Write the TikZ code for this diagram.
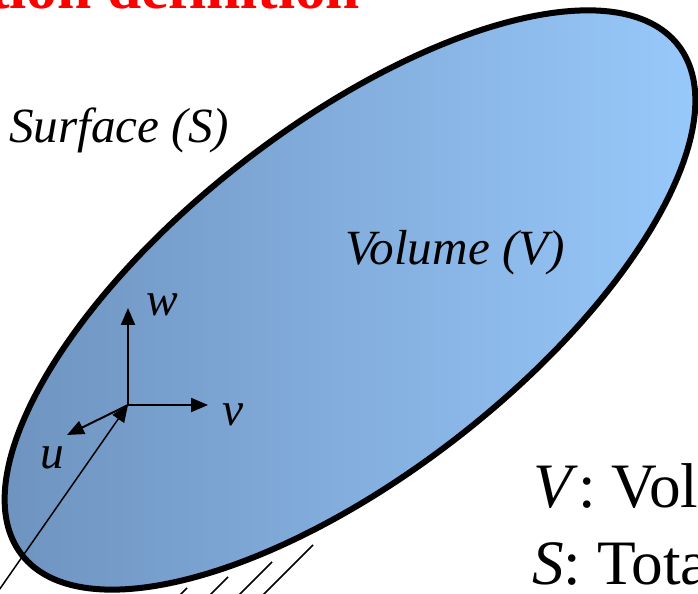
\documentclass[tikz,border=0pt]{standalone}
\usepackage{fontspec}
\setmainfont{Liberation Serif}
\usetikzlibrary{arrows.meta,shapes.geometric}
\definecolor{volc}{HTML}{6C90BC}
\definecolor{vollc}{HTML}{9ACCFE}
\definecolor{titc}{HTML}{FF0000}
\tikzset{
  >={Triangle[length=3.4mm,width=2.8mm]},
  vol/.style={ellipse,draw=black,line width=1.2mm,left color=volc,right color=vollc,inner sep=0pt},
  axis/.style={->,line width=0.4mm},
  posv/.style={->,line width=0.3mm},
  hatch/.style={line width=0.3mm},
  lbl/.style={font=\fontsize{28}{32}\selectfont\itshape,inner sep=0pt},
  alb/.style={font=\fontsize{27}{30}\selectfont\itshape,inner sep=0pt},
  big/.style={font=\fontsize{36}{40}\selectfont,anchor=base west,inner sep=0pt},
  ttl/.style={font=\fontsize{35}{40}\selectfont\bfseries,text=titc,anchor=base west,inner sep=0pt},
}
\begin{document}
\begin{tikzpicture}[x=0.2mm,y=0.2mm]
  \useasboundingbox (0,0) rectangle (698,594);
  \node[ttl] (title) at (-11,585) {tion definition};
  % hatching under the surface
  \foreach \hx/\hy in {313/49,272/32,228/17,187/6}
    \draw[hatch] (\hx,\hy) -- ++(-60,-60);
  \node[vol,minimum width=166.2mm,minimum height=69.8mm,rotate=37.8] (V) at (350,294) {};
  \node[lbl] (surf) at (119,464) {Surface (S)};
  \node[lbl] (volm) at (455,341) {Volume (V)};
  % frame u,v,w and position vector
  \coordinate (o) at (128,189);
  \coordinate (r0) at (-10,-9);
  \coordinate (wt) at (128,286);
  \coordinate (vt) at (208,189);
  \coordinate (ut) at (67,159);
  \draw[posv] (r0) -- (o);
  \draw[axis] (o) -- (wt);
  \draw[axis] (o) -- (vt);
  \draw[axis] (o) -- (ut);
  \node[alb] (wl) at (162,289) {w};
  \node[alb] (vl) at (233,179) {v};
  \node[alb] (ul) at (52,136) {u};
  \node[big] (vdef) at (533,86) {\textit{V}: Vol};
  \node[big] (sdef) at (532,9) {\textit{S}: Tota};
\end{tikzpicture}
\end{document}
